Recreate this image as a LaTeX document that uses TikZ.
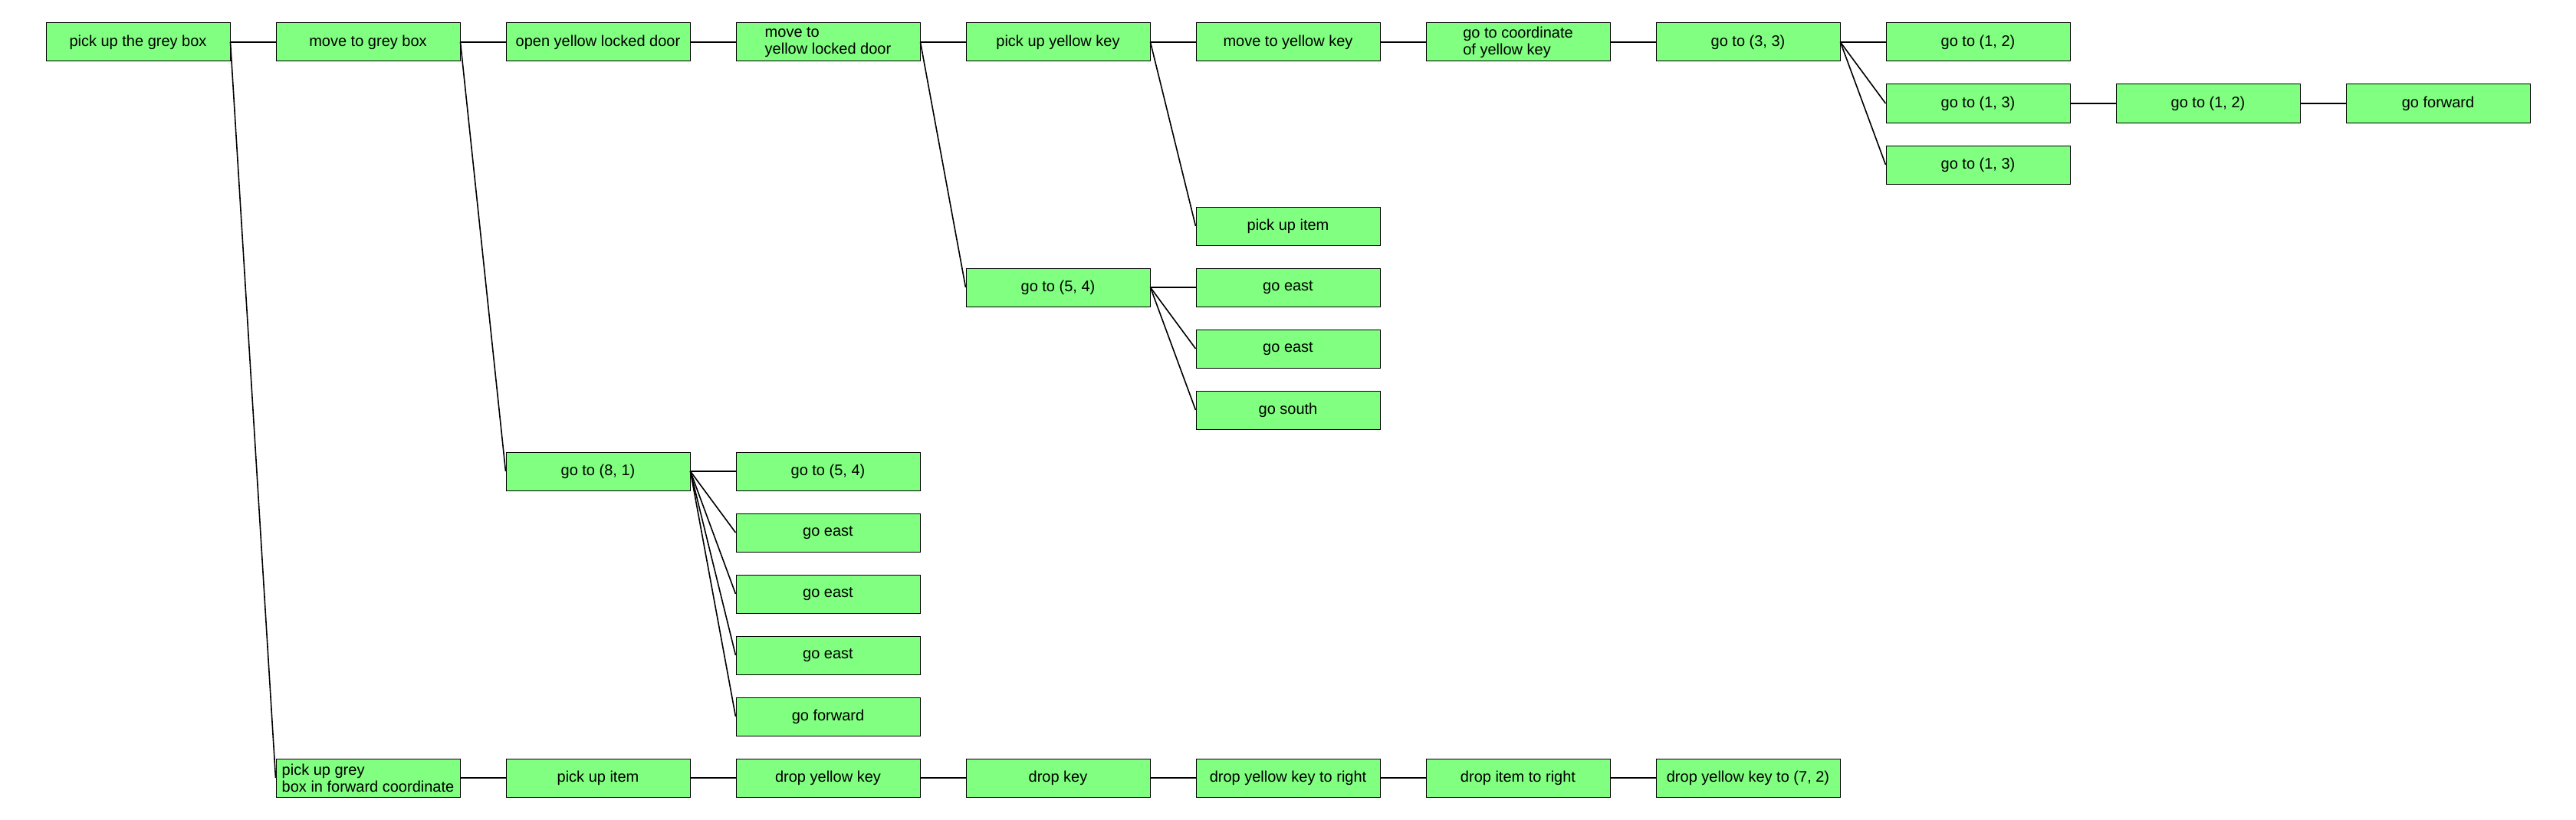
\documentclass[tikz,border=0pt]{standalone}
\usepackage{fontspec}
\setmainfont{Liberation Sans}
\usetikzlibrary{positioning}
\definecolor{leafgreen}{RGB}{128,255,128}

\begin{document}
\begin{tikzpicture}[block/.style={rectangle, draw, fill=leafgreen, line width=0.5pt, minimum width=120pt, minimum height=25pt, inner sep=1pt, align=left, font=\fontsize{10}{11}\selectfont},
  link/.style={line width=0.8pt},
  node distance=150pt]
  \useasboundingbox (0,0) rectangle (1680pt,-535pt);
  % top row
  \node[block] (pickbox) at (90pt,-27.5pt) {pick up the grey box};
  \node[block, right of=pickbox] (movebox) {move to grey box};
  \node[block, right of=movebox] (opendoor) {open yellow locked door};
  \node[block, right of=opendoor] (movedoor) {move to\\yellow locked door};
  \node[block, right of=movedoor] (pickkey) {pick up yellow key};
  \node[block, right of=pickkey] (movekey) {move to yellow key};
  \node[block, right of=movekey] (gokey) {go to coordinate\\of yellow key};
  \node[block, right of=gokey] (gothree) {go to (3, 3)};
  \node[block, right of=gothree] (gotwo) {go to (1, 2)};
  \node[block, below of=gotwo, node distance=40pt] (gothirteen) {go to (1, 3)};
  \node[block, below of=gothirteen, node distance=40pt] (gothirteenb) {go to (1, 3)};
  \node[block, right of=gothirteen] (gotwelve) {go to (1, 2)};
  \node[block, right of=gotwelve] (gofwd) {go forward};
  % key branch
  \node[block, below of=movekey, node distance=120pt] (pickitem) {pick up item};
  \node[block, below of=pickkey, node distance=160pt] (gofive) {go to (5, 4)};
  \node[block, right of=gofive] (easta) {go east};
  \node[block, below of=easta, node distance=40pt] (eastb) {go east};
  \node[block, below of=eastb, node distance=40pt] (south) {go south};
  % door branch
  \node[block, below of=opendoor, node distance=280pt] (goeight) {go to (8, 1)};
  \node[block, right of=goeight] (gofiveb) {go to (5, 4)};
  \node[block, below of=gofiveb, node distance=40pt] (eastc) {go east};
  \node[block, below of=eastc, node distance=40pt] (eastd) {go east};
  \node[block, below of=eastd, node distance=40pt] (easte) {go east};
  \node[block, below of=easte, node distance=40pt] (fwdb) {go forward};
  % bottom row
  \node[block, below of=movebox, node distance=480pt] (dropbox) {pick up grey\\box in forward coordinate};
  \node[block, right of=dropbox] (pickitemb) {pick up item};
  \node[block, right of=pickitemb] (dropkey) {drop yellow key};
  \node[block, right of=dropkey] (dropkeyb) {drop key};
  \node[block, right of=dropkeyb] (dropright) {drop yellow key to right};
  \node[block, right of=dropright] (dropitem) {drop item to right};
  \node[block, right of=dropitem] (dropat) {drop yellow key to (7, 2)};

  \draw[link] (pickbox.east) -- (movebox.west);
  \draw[link] (pickbox.east) -- (dropbox.west);
  \draw[link] (movebox.east) -- (opendoor.west);
  \draw[link] (movebox.east) -- (goeight.west);
  \draw[link] (opendoor.east) -- (movedoor.west);
  \draw[link] (movedoor.east) -- (pickkey.west);
  \draw[link] (movedoor.east) -- (gofive.west);
  \draw[link] (pickkey.east) -- (movekey.west);
  \draw[link] (pickkey.east) -- (pickitem.west);
  \draw[link] (movekey.east) -- (gokey.west);
  \draw[link] (gokey.east) -- (gothree.west);
  \draw[link] (gothree.east) -- (gotwo.west);
  \draw[link] (gothree.east) -- (gothirteen.west);
  \draw[link] (gothree.east) -- (gothirteenb.west);
  \draw[link] (gothirteen.east) -- (gotwelve.west);
  \draw[link] (gotwelve.east) -- (gofwd.west);
  \draw[link] (gofive.east) -- (easta.west);
  \draw[link] (gofive.east) -- (eastb.west);
  \draw[link] (gofive.east) -- (south.west);
  \draw[link] (goeight.east) -- (gofiveb.west);
  \draw[link] (goeight.east) -- (eastc.west);
  \draw[link] (goeight.east) -- (eastd.west);
  \draw[link] (goeight.east) -- (easte.west);
  \draw[link] (goeight.east) -- (fwdb.west);
  \draw[link] (dropbox.east) -- (pickitemb.west);
  \draw[link] (pickitemb.east) -- (dropkey.west);
  \draw[link] (dropkey.east) -- (dropkeyb.west);
  \draw[link] (dropkeyb.east) -- (dropright.west);
  \draw[link] (dropright.east) -- (dropitem.west);
  \draw[link] (dropitem.east) -- (dropat.west);

\end{tikzpicture}
\end{document}
